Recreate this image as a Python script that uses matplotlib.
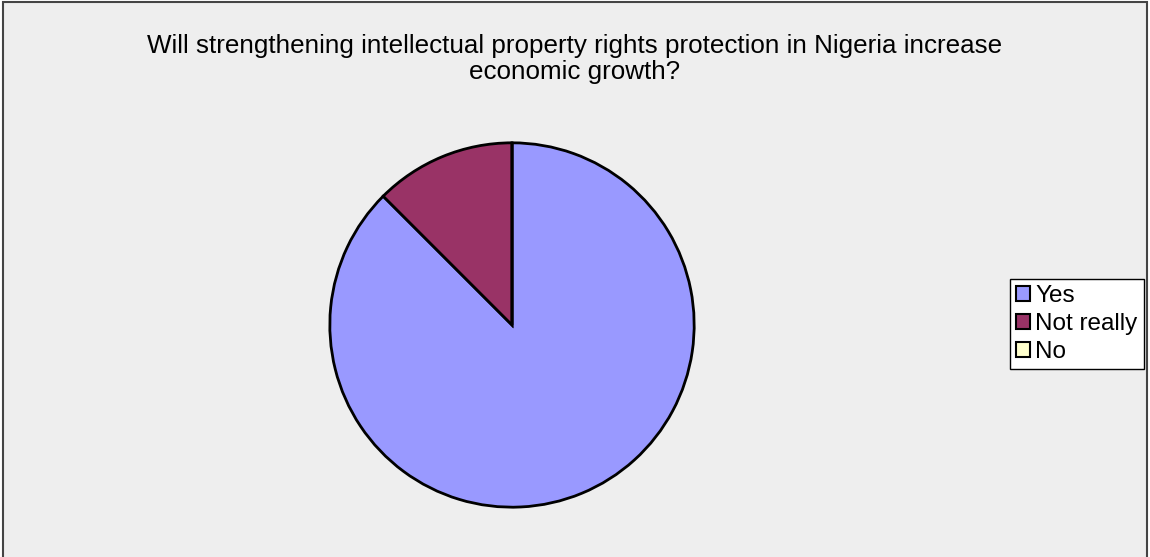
import matplotlib.pyplot as plt
from matplotlib.patches import Rectangle, Patch

plt.rcParams['font.family'] = ['Liberation Sans', 'DejaVu Sans']

title = "Will strengthening intellectual property rights protection in Nigeria increase\neconomic growth?"
labels = ['Yes', 'Not really', 'No']
shares = [87.5, 12.5, 0.0]
colors = ['#9999FF', '#993366', '#FFFFCC']

W, H = 1150, 557
fig = plt.figure(figsize=(W / 100, H / 100), dpi=100)
fig.patch.set_facecolor('white')

# chart area box
fig.patches.append(Rectangle((3 / W, -0.01), (1147 - 3) / W, (H - 2) / H + 0.01,
                             transform=fig.transFigure, facecolor='#EEEEEE',
                             edgecolor='#444444', linewidth=1.5, zorder=-5))

cx, cy, r = 512, 325, 184
ax = fig.add_axes([(cx - r) / W, (H - cy - r) / H, 2 * r / W, 2 * r / H])
ax.set_zorder(2)
ax.pie(shares, colors=colors, startangle=90, counterclock=False,
       wedgeprops=dict(edgecolor='black', linewidth=2))
ax.set_xlim(-1.01, 1.01)
ax.set_ylim(-1.01, 1.01)
ax.set_aspect('equal')
ax.axis('off')

fig.text(0.5, (H - 59) / H, title, ha='center', va='center', fontsize=18.7,
         linespacing=1.12)

handles = [Patch(facecolor=c, edgecolor='black', linewidth=1.5) for c in colors]
leg = fig.legend(handles, labels, loc='upper left',
                 bbox_to_anchor=(1010 / W, (H - 279) / H),
                 fontsize=17.5, frameon=True, fancybox=False,
                 handlelength=0.55, handleheight=0.55, handletextpad=0.22,
                 labelspacing=0.24, borderpad=0.26, borderaxespad=0)
leg.get_frame().set_edgecolor('black')
leg.get_frame().set_linewidth(1)
leg.get_frame().set_facecolor('white')
leg.get_frame().set_alpha(1)
leg.set_zorder(3)

fig.savefig('out.png', dpi=100, facecolor='white')
